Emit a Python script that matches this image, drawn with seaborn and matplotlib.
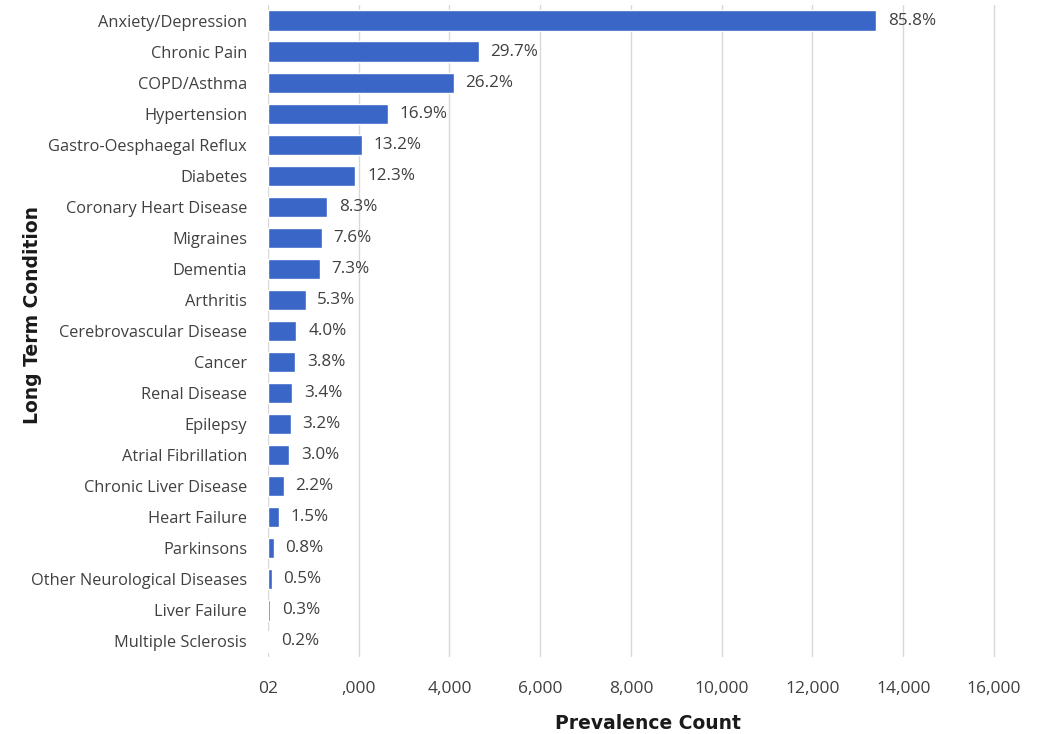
import matplotlib
matplotlib.use("Agg")
import matplotlib.pyplot as plt
import seaborn as sns
import pandas as pd

conditions = ["Anxiety/Depression", "Chronic Pain", "COPD/Asthma", "Hypertension",
              "Gastro-Oesphaegal Reflux", "Diabetes", "Coronary Heart Disease", "Migraines",
              "Dementia", "Arthritis", "Cerebrovascular Disease", "Cancer", "Renal Disease",
              "Epilepsy", "Atrial Fibrillation", "Chronic Liver Disease", "Heart Failure",
              "Parkinsons", "Other Neurological Diseases", "Liver Failure", "Multiple Sclerosis"]
counts = [13410, 4640, 4095, 2641, 2063, 1922, 1297, 1188, 1141, 828, 625, 594, 531,
          500, 469, 344, 234, 125, 78, 47, 31]
pct_labels = ["85.8%", "29.7%", "26.2%", "16.9%", "13.2%", "12.3%", "8.3%", "7.6%", "7.3%",
              "5.3%", "4.0%", "3.8%", "3.4%", "3.2%", "3.0%", "2.2%", "1.5%", "0.8%",
              "0.5%", "0.3%", "0.2%"]
xticks = [0, 2000, 4000, 6000, 8000, 10000, 12000, 14000, 16000]
xtick_labels = ["02", ",000", "4,000", "6,000", "8,000", "10,000", "12,000", "14,000", "16,000"]

df = pd.DataFrame({"Condition": conditions, "Count": counts})

sns.set_style("white")
plt.rcParams["font.family"] = ["Open Sans", "DejaVu Sans"]

fig = plt.figure(figsize=(10.43, 7.34), dpi=100)
ax = fig.add_axes([268 / 1043, 1 - 657 / 734, (1028 - 268) / 1043, (657 - 5) / 734])

sns.barplot(data=df, x="Count", y="Condition", color="#3a67c7", saturation=1,
            width=0.65, ax=ax, zorder=3)

ax.set_xlim(0, 16750)
ax.set_xticks(xticks)
ax.set_xticklabels(xtick_labels, fontsize=12.5, color="#404040")
ax.tick_params(axis="y", labelsize=11.8, labelcolor="#404040", length=0, pad=15)
ax.tick_params(axis="x", length=0, pad=17)
ax.grid(axis="x", color="#d8d8d8", linewidth=1, zorder=0)
for s in ax.spines.values():
    s.set_visible(False)

for i, (c, lab) in enumerate(zip(counts, pct_labels)):
    ax.text(c + 260, i, lab, va="center", ha="left", fontsize=12.3, color="#404040")

ax.set_xlabel("Prevalence Count", fontsize=13.5, fontweight="bold", color="#1a1a1a",
              family="DejaVu Sans")
ax.set_ylabel("Long Term Condition", fontsize=13.5, fontweight="bold", color="#1a1a1a",
              family="DejaVu Sans")
ax.xaxis.set_label_coords(0.5, -0.087)
ax.yaxis.set_label_coords(-0.297, 0.525)

fig.savefig("out.png", dpi=100)
